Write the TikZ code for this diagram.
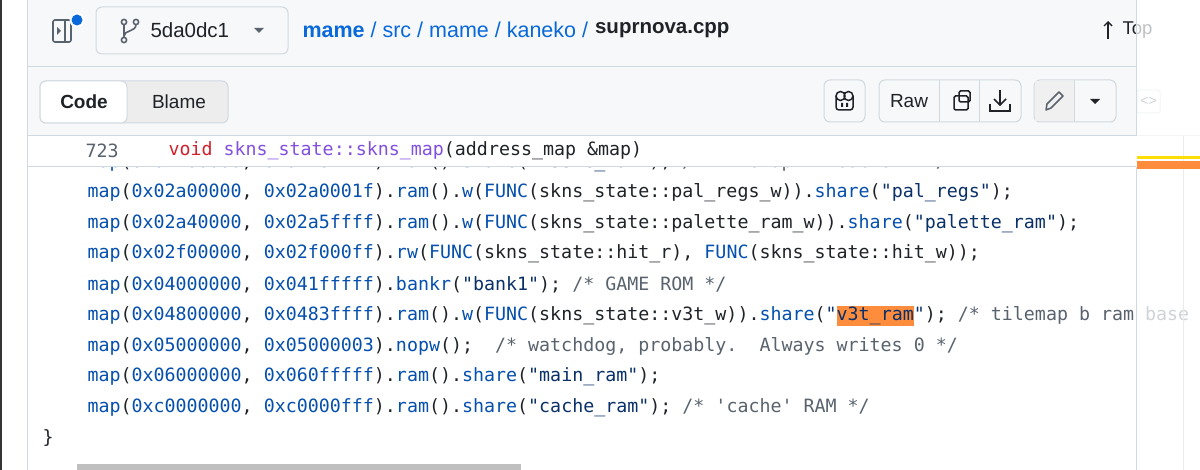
\documentclass[tikz,border=0pt]{standalone}
\usepackage{fontspec}
\setmainfont{Liberation Sans}
\setmonofont{DejaVu Sans Mono}
\usepackage{xcolor}
\usetikzlibrary{arrows.meta,positioning}
\definecolor{hdrbg}{HTML}{F6F8FA}
\definecolor{bordure}{HTML}{D1D9E0}
\definecolor{texte}{HTML}{1F2328}
\definecolor{lien}{HTML}{0969DA}
\definecolor{synbleu}{HTML}{0550AE}
\definecolor{synchaine}{HTML}{0A3069}
\definecolor{syngris}{HTML}{59636E}
\definecolor{synrouge}{HTML}{CF222E}
\definecolor{synviolet}{HTML}{8250DF}
\definecolor{surligne}{HTML}{FD8C3D}
\newcommand\kw[1]{\textcolor{synbleu}{#1}}
\newcommand\chaine[1]{\textcolor{synchaine}{#1}}
\newcommand\cmt[1]{\textcolor{syngris}{#1}}
\newcommand\codefont{\ttfamily\fontsize{18.3}{20}\selectfont}
\newcommand\uifont{\fontsize{19}{22}\selectfont}

\begin{document}
\begin{tikzpicture}[x=1pt, y=-1pt, line width=1pt,
    codeline/.style={anchor=west, inner sep=0pt, text=texte, font=\codefont},
    bouton/.style={draw=bordure, fill=hdrbg, rounded corners=6pt},
    uitext/.style={inner sep=0pt, text=texte, font=\uifont}]
                \useasboundingbox (0,0) rectangle (1200,470);
                \clip (0,0) rectangle (1200,470);
                \fill[white] (0,0) rectangle (1200,470);

                % bandeau du haut et barre d'outils
                \fill[hdrbg] (27,0) rectangle (1136,136);
                \draw[bordure] (27,67) -- (1136,67);
                \draw[bordure] (27,136) -- (1200,136);
                \fill[black!80] (0,0) rectangle (2,470);
                \draw[bordure] (27,0) -- (27,470);

                % icone du panneau lateral
                \draw[syngris, line width=1.6pt, rounded corners=2pt] (53,20) rectangle (71,42);
                \draw[syngris, line width=1.6pt] (65,20) -- (65,42);
                \fill[syngris] (57,27) -- (61,31) -- (57,35) -- cycle;
                \fill[white] (77,20) circle (7.5);
                \fill[lien] (77,20) circle (5.5);

                % bouton de branche
                \draw[bouton] (96,7) rectangle (288,54);
                \draw[syngris, line width=1.6pt] (124,22) circle (2.6) (124,40) circle (2.6) (136,22) circle (2.6);
                \draw[syngris, line width=1.6pt] (124,24.6) -- (124,37.4);
                \draw[syngris, line width=1.6pt] (136,24.6) .. controls (136,32) and (124,30) .. (124,36);
                \node[uitext, anchor=west, font=\fontsize{20.5}{22}\selectfont] (branche) at (150,30) {5da0dc1};
                \fill[syngris] (254,28) -- (264,28) -- (259,33) -- cycle;

                % chemin du fichier
                \node[uitext, anchor=west, text=lien, font=\fontsize{21.5}{24}\selectfont] (chemin) at (302,30)
                    {\textbf{mame} / src / mame / kaneko /};
                \node[uitext, font=\bfseries\fontsize{20.5}{24}\selectfont, right=6pt of chemin] (fichier) {suprnova.cpp};
                \draw[texte, line width=1.4pt, -{Straight Barb[length=4pt]}] (1108,39) -- (1108,21);
                \node[uitext, anchor=west, font=\fontsize{18.5}{22}\selectfont] (haut) at (1122,30) {Top};

                % onglets Code / Blame
                \draw[bordure, fill=black!7, rounded corners=6pt] (40,81) rectangle (228,123);
                \draw[bordure, fill=white, rounded corners=6pt] (40,81) rectangle (127,123);
                \node[uitext, font=\bfseries\uifont] (code) at (84,102) {Code};
                \node[uitext] (blame) at (179,102) {Blame};

                % boutons de droite
                \draw[bouton] (824,80) rectangle (865,122);
                \draw[texte, line width=1.5pt, rounded corners=3pt] (836,96) -- (836,110) -- (853,110) -- (853,96);
                \draw[texte, line width=1.5pt] (840.5,96) circle (4.5) (848.5,96) circle (4.5);
                \fill[texte] (841,103) rectangle (843,107) (846,103) rectangle (848,107);
                \draw[bouton] (879,80) rectangle (1021,122);
                \draw[bordure] (939,80) -- (939,122) (979,80) -- (979,122);
                \node[uitext] (brut) at (909,101) {Raw};
                \draw[texte, line width=1.5pt, rounded corners=1.5pt] (954,96) rectangle (968,110);
                \draw[texte, line width=1.5pt, rounded corners=1.5pt] (959,91) rectangle (970,102);
                \draw[texte, line width=1.5pt] (1000,90) -- (1000,105);
                \draw[texte, line width=1.5pt] (994,99) -- (1000,105) -- (1006,99);
                \draw[texte, line width=1.5pt] (990,104) -- (990,111) -- (1010,111) -- (1010,104);
                \draw[bouton] (1034,80) rectangle (1116,122);
                \fill[black!6] (1035,81) rectangle (1074,121);
                \draw[bordure] (1074,80) -- (1074,122);
                \draw[syngris, line width=1.5pt, line join=round] (1046,110) -- (1047,104) -- (1059,92) -- (1063,96) -- (1051,108) -- cycle;
                \fill[texte] (1090,99) -- (1100,99) -- (1095,104) -- cycle;
                \draw[bordure, rounded corners=2pt] (1137,90) rectangle (1160,113);
                \node[uitext, font=\fontsize{14}{14}\selectfont, text=syngris] (source) at (1148.5,101.5) {<>};

                % lignes de code (la premiere passe sous l'en-tete fixe)
                \begin{scope}
                \clip (28,168) rectangle (1200,470);
                \node[codeline] (l0) at (87,162.5) {\kw{map}(\kw{0x02100000}, \kw{0x0210ffff}).\kw{ram}().\kw{share}(\chaine{"v3slc\_ram"}); \cmt{/* tilemap linescroll */}};
                \end{scope}
                \node[codeline] (l1) at (87,193) {\kw{map}(\kw{0x02a00000}, \kw{0x02a0001f}).\kw{ram}().\kw{w}(\kw{FUNC}(skns\_state::pal\_regs\_w)).\kw{share}(\chaine{"pal\_regs"});};
                \node[codeline] (l2) at (87,224) {\kw{map}(\kw{0x02a40000}, \kw{0x02a5ffff}).\kw{ram}().\kw{w}(\kw{FUNC}(skns\_state::palette\_ram\_w)).\kw{share}(\chaine{"palette\_ram"});};
                \node[codeline] (l3) at (87,254) {\kw{map}(\kw{0x02f00000}, \kw{0x02f000ff}).\kw{rw}(\kw{FUNC}(skns\_state::hit\_r), \kw{FUNC}(skns\_state::hit\_w));};
                \node[codeline] (l4) at (87,285) {\kw{map}(\kw{0x04000000}, \kw{0x041fffff}).\kw{bankr}(\chaine{"bank1"}); \cmt{/* GAME ROM */}};
                \node[codeline] (l5) at (87,316) {\kw{map}(\kw{0x04800000}, \kw{0x0483ffff}).\kw{ram}().\kw{w}(\kw{FUNC}(skns\_state::v3t\_w)).\kw{share}(\chaine{"{\setlength\fboxsep{0pt}\colorbox{surligne}{\strut v3t\_ram}}"}); \cmt{/* tilemap b ram base */}};
                \node[codeline] (l6) at (87,346) {\kw{map}(\kw{0x05000000}, \kw{0x05000003}).\kw{nopw}();\ \ \cmt{/* watchdog, probably.\ \ Always writes 0 */}};
                \node[codeline] (l7) at (87,377) {\kw{map}(\kw{0x06000000}, \kw{0x060fffff}).\kw{ram}().\kw{share}(\chaine{"main\_ram"});};
                \node[codeline] (l8) at (87,408) {\kw{map}(\kw{0xc0000000}, \kw{0xc0000fff}).\kw{ram}().\kw{share}(\chaine{"cache\_ram"}); \cmt{/* 'cache' RAM */}};
                \node[codeline] (fin) at (42,438) {\}};

                % en-tete fixe de la fonction
                \fill[white] (28,137) rectangle (1136,166);
                \draw[bordure] (28,167) -- (1136,167);
                \node[codeline, text=syngris] (numero) at (85,151) {723};
                \node[codeline] (entete) at (168,151) {\textcolor{synrouge}{void} \textcolor{synviolet}{skns\_state::skns\_map}(address\_map \&map)};

                % barre de defilement
                \fill[black!25] (77,464) rectangle (521,470);

                % colonne de droite estompee
                \fill[white, opacity=0.72] (1137,0) rectangle (1200,470);
                \draw[bordure] (1136,0) -- (1136,136) (1136,167) -- (1136,470);
                \draw[black!8] (1183,136) -- (1183,470);
                \fill[yellow!80!orange] (1137,156) rectangle (1200,159);
                \fill[surligne] (1137,161) rectangle (1200,169);
            \end{tikzpicture}
\end{document}
